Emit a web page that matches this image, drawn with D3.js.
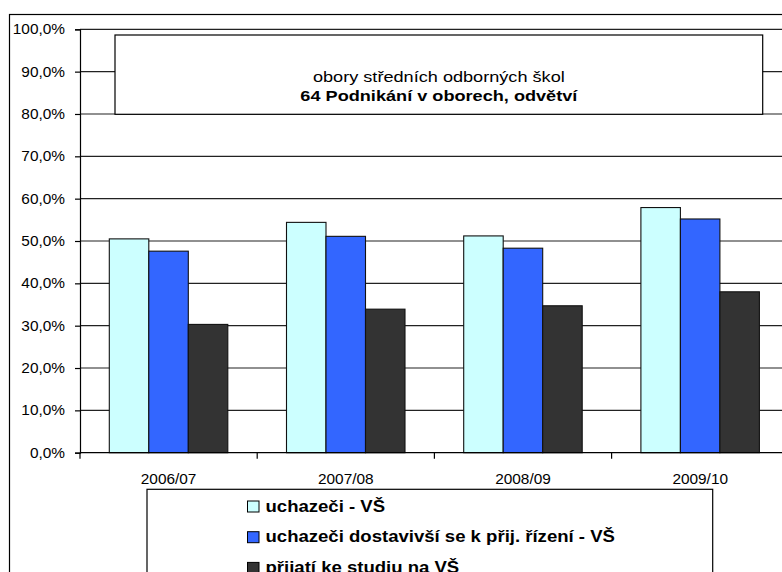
<!DOCTYPE html>
<html>
<head>
<meta charset="utf-8">
<script src="https://cdn.jsdelivr.net/npm/d3@7"></script>
<style>
  body{margin:0;background:#fff;}
  svg{display:block;font-family:"Liberation Sans",Arial,sans-serif;}
</style>
</head>
<body>
<div id="chart"></div>
<script>
// school years on the x axis
var years = ["2006/07","2007/08","2008/09","2009/10"];
// series names (legend)
var series = ["uchazeči - VŠ","uchazeči dostavivší se k přij. řízení - VŠ","přijatí ke studiu na VŠ"];
var colors = ["#ccffff","#3366ff","#333333"];
// shares, per series, per year
var applicants = [0.505,0.544,0.512,0.579];
var attended   = [0.476,0.511,0.483,0.552];
var admitted   = [0.303,0.339,0.347,0.380];
var yTicks = [0,0.1,0.2,0.3,0.4,0.5,0.6,0.7,0.8,0.9,1.0];
var titleLines = ["obory středních odborných škol","64 Podnikání v oborech, odvětví"];

var values = [applicants, attended, admitted];
var stretch = 1.1; //text in the picture is a bit wider than it is tall

var W = 782, H = 572;
var svg = d3.select("#chart").append("svg").attr("width",W).attr("height",H);

//outer frame, runs off the right and bottom edge
svg.append("rect").attr("x",9.5).attr("y",14.5).attr("width",W).attr("height",H)
   .attr("fill","#fff").attr("stroke","#000").attr("stroke-width",1.2);

var plot = {left:80, top:29.3, bottom:452.7, step:177.2};
var y = d3.scaleLinear().domain([0,1]).range([plot.bottom, plot.top]);
var x = d3.scaleBand().domain(years).range([plot.left, plot.left + plot.step*years.length]);
var xs = d3.scaleBand().domain(d3.range(series.length)).range([29.3, 29.3 + 3*39.5]);

//gridlines
svg.append("g").selectAll("line").data(yTicks.slice(1)).enter().append("line")
   .attr("x1",plot.left).attr("x2",W+10)
   .attr("y1",function(d){return y(d)}).attr("y2",function(d){return y(d)})
   .attr("stroke","#222").attr("stroke-width",1.2);

//bars
var groups = svg.append("g").selectAll("g").data(years).enter().append("g")
   .attr("transform",function(d){return "translate("+x(d)+",0)"});
groups.selectAll("rect").data(function(d,i){
      return values.map(function(v,k){return {k:k, v:v[i]}});
   }).enter().append("rect")
   .attr("x",function(d){return xs(d.k)})
   .attr("width",xs.bandwidth())
   .attr("y",function(d){return y(d.v)})
   .attr("height",function(d){return y(0)-y(d.v)})
   .attr("fill",function(d){return colors[d.k]})
   .attr("stroke","#111").attr("stroke-width",1.1);

//axes
var yAxis = svg.append("g").attr("transform","translate("+plot.left+",0)")
   .call(d3.axisLeft(y).tickValues(yTicks).tickSize(5).tickPadding(0)
   .tickFormat(function(d){return d3.format(".1f")(d*100).replace(".",",")+"%"}));
yAxis.selectAll("text").attr("x",-15/stretch).attr("transform","scale("+stretch+",1)")
   .style("font-size","14px").attr("fill","#000");

var xAxis = svg.append("g").attr("transform","translate(0,"+plot.bottom+")")
   .call(d3.axisBottom(x).tickSize(0).tickPadding(0));
xAxis.selectAll("text").attr("y",31).attr("dy",0).attr("transform","scale("+stretch+",1)")
   .style("font-size","14px").attr("fill","#000");
xAxis.select(".domain").remove();
svg.append("g").attr("transform","translate(0,"+plot.bottom+")")
   .selectAll("line").data(d3.range(years.length+1)).enter().append("line")
   .attr("x1",function(d){return plot.left+d*plot.step}).attr("x2",function(d){return plot.left+d*plot.step})
   .attr("y1",0).attr("y2",6).attr("stroke","#000").attr("stroke-width",1.2);
svg.selectAll(".domain, .tick line").attr("stroke","#000").attr("stroke-width",1.2);
svg.append("line").attr("x1",plot.left).attr("x2",W+10).attr("y1",plot.bottom).attr("y2",plot.bottom)
   .attr("stroke","#000").attr("stroke-width",1.2);

//title box
var tb = {x:115, y:35, w:647.7, h:79.3};
svg.append("rect").attr("x",tb.x).attr("y",tb.y).attr("width",tb.w).attr("height",tb.h)
   .attr("fill","#fff").attr("stroke","#000").attr("stroke-width",1.2);
var cx = tb.x + tb.w/2;
svg.append("g").selectAll("text").data(titleLines).enter().append("text")
   .attr("transform",function(d,i){return "translate("+cx+","+(i==0?82:101)+") scale(1.21,1)"})
   .attr("text-anchor","middle")
   .style("font-size","15px")
   .style("font-weight",function(d,i){return i==1?"bold":"normal"})
   .text(function(d){return d});

//legend
svg.append("rect").attr("x",147).attr("y",489.3).attr("width",565.7).attr("height",120)
   .attr("fill","#fff").attr("stroke","#000").attr("stroke-width",1.2);
var items = svg.append("g").selectAll("g").data(series).enter().append("g")
   .attr("transform",function(d,i){return "translate(247,"+(506.5+i*30.7)+")"});
items.append("rect").attr("x",0.5).attr("y",-5.5).attr("width",11.5).attr("height",11)
   .attr("fill",function(d,i){return colors[i]}).attr("stroke","#000").attr("stroke-width",1);
items.append("text").attr("transform","translate(18.5,5) scale(1.16,1)")
   .style("font-size","16px").style("font-weight","bold")
   .text(function(d){return d});
</script>
</body>
</html>
